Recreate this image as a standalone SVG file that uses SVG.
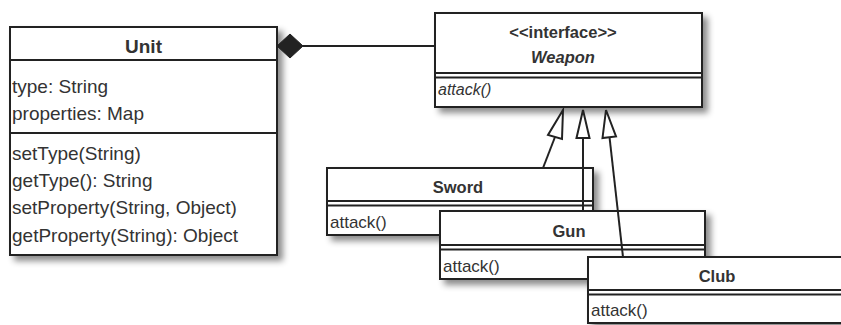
<svg xmlns="http://www.w3.org/2000/svg" width="841" height="325" viewBox="0 0 841 325">
<defs>
<filter id="sh" x="-10%" y="-10%" width="130%" height="140%">
<feDropShadow dx="5" dy="5" stdDeviation="3" flood-color="#000" flood-opacity="0.45"/>
</filter>
</defs>
<style>
.box{fill:#fff;stroke:#222;stroke-width:2}
.ln{stroke:#222;stroke-width:2;fill:none}
.t{font-family:"Liberation Sans",Arial,sans-serif;fill:#333}
.r{font-size:19px}
.s{font-size:16.5px}
.b{font-weight:bold;text-anchor:middle}
.i{font-style:italic}
.tri{fill:#fff;stroke:#222;stroke-width:2;stroke-linejoin:miter}
</style>
<rect width="841" height="325" fill="#fff"/>
<g id="unit">
<rect class="box" x="10" y="27" width="267" height="228" filter="url(#sh)"/>
<line class="ln" x1="10" y1="60" x2="277" y2="60"/>
<line class="ln" x1="10" y1="133" x2="277" y2="133"/>
<text class="t b" x="143.5" y="53" font-size="19">Unit</text>
<text class="t r" x="12" y="93">type: String</text>
<text class="t r" x="12" y="120">properties: Map</text>
<text class="t r" x="12" y="160">setType(String)</text>
<text class="t r" x="12" y="187">getType(): String</text>
<text class="t r" x="12" y="214">setProperty(String, Object)</text>
<text class="t r" x="12" y="242">getProperty(String): Object</text>
</g>
<g id="weapon">
<rect class="box" x="435" y="13" width="267" height="94" filter="url(#sh)"/>
<line class="ln" x1="435" y1="73" x2="702" y2="73"/>
<line class="ln" x1="435" y1="77.5" x2="702" y2="77.5"/>
<text class="t s b" x="563" y="38">&lt;&lt;interface&gt;&gt;</text>
<text class="t s b i" x="563" y="63">Weapon</text>
<text class="t i" x="438" y="95" font-size="16">attack()</text>
</g>
<g id="sword">
<rect class="box" x="327" y="168" width="266" height="67" filter="url(#sh)"/>
<line class="ln" x1="327" y1="201" x2="593" y2="201"/>
<line class="ln" x1="327" y1="205.5" x2="593" y2="205.5"/>
<text class="t s b" x="458" y="193">Sword</text>
<text class="t" x="330" y="228" font-size="17">attack()</text>
</g>
<g id="gun">
<rect class="box" x="440" y="211" width="265" height="68" filter="url(#sh)"/>
<line class="ln" x1="440" y1="245" x2="705" y2="245"/>
<line class="ln" x1="440" y1="249.5" x2="705" y2="249.5"/>
<text class="t s b" x="569" y="237">Gun</text>
<text class="t" x="443" y="272" font-size="17">attack()</text>
</g>
<g id="club">
<rect class="box" x="588" y="257" width="262" height="66" filter="url(#sh)"/>
<line class="ln" x1="588" y1="290" x2="850" y2="290"/>
<line class="ln" x1="588" y1="294.5" x2="850" y2="294.5"/>
<text class="t s b" x="717" y="282">Club</text>
<text class="t" x="591" y="316" font-size="17">attack()</text>
</g>
<g id="connectors">
<line class="ln" x1="303" y1="46" x2="435" y2="46"/>
<polygon points="277,46 290,34 303,46 290,58" fill="#222" stroke="#222" stroke-width="1"/>
<line class="ln" x1="555" y1="137" x2="543" y2="168"/>
<polygon class="tri" points="563,110 548,135 562,139"/>
<line class="ln" x1="583" y1="138" x2="583" y2="211"/>
<polygon class="tri" points="583,110 576.5,138 589.5,138"/>
<line class="ln" x1="609.5" y1="137" x2="623" y2="257"/>
<polygon class="tri" points="606,110 602.5,138 616,136.5"/>
</g>
</svg>
